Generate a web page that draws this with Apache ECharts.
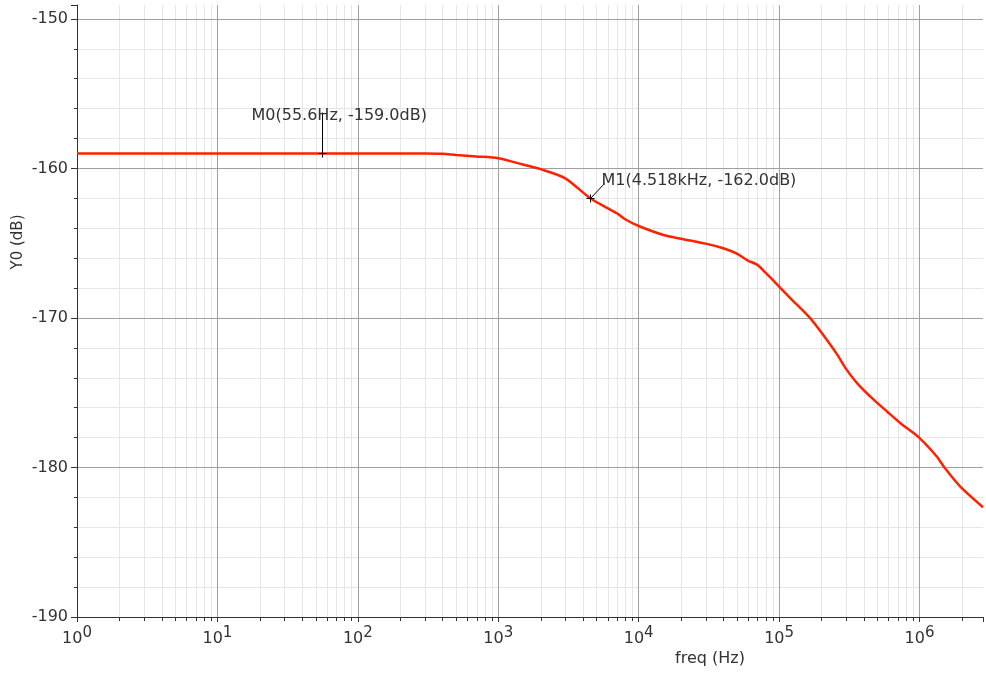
<!DOCTYPE html>
<html><head><meta charset="utf-8">
<script src="https://cdn.jsdelivr.net/npm/echarts@6/dist/echarts.min.js"></script>
<style>html,body{margin:0;padding:0;background:#fff}#c{width:986px;height:673px}</style>
</head><body><div id="c"></div>
<script>
// ---- data ----
const freqHz = [1, 10, 100, 300, 400, 500, 700, 1000, 1500, 2000, 3000, 4518, 6000, 7000, 8000, 10000, 15000, 20000, 30000, 40000, 50000, 60000, 70000, 80000, 100000, 121000, 164000, 200000, 260000, 298000, 360000, 473000, 589000, 732000, 1005000, 1330000, 1490000, 1950000, 2830000];
const magDb = [-159.0, -159.0, -159.0, -159.0, -159.02, -159.1, -159.2, -159.32, -159.74, -160.05, -160.66, -162.0, -162.66, -163.0, -163.4, -163.85, -164.45, -164.7, -165.03, -165.34, -165.7, -166.16, -166.45, -166.97, -167.9, -168.7, -169.95, -170.98, -172.47, -173.37, -174.37, -175.48, -176.27, -177.04, -178.05, -179.28, -179.95, -181.28, -182.66];
const markerFreq = [55.6, 4518];
const markerDb = [-159.0, -162.0];
const markerText = ['M0(55.6Hz, -159.0dB)', 'M1(4.518kHz, -162.0dB)'];
const yTicks = [-190, -180, -170, -160, -150];
const xDecades = [0, 1, 2, 3, 4, 5, 6];
const xAxisName = 'freq (Hz)';
const yAxisName = 'Y0 (dB)';

const X_MIN = 1, X_MAX = 2.83e6, Y_MIN = -190, Y_MAX = -149.07;
const FONT = 'DejaVu Sans';
const TXT = '#333';

// minor log grid positions (2..9 x 10^d)
const minorX = [];
xDecades.forEach(d => { for (let m = 2; m <= 9; m++) { const v = m * Math.pow(10, d); if (v < X_MAX) minorX.push([v, Y_MIN]); } });

const chart = echarts.init(document.getElementById('c'), null, {renderer: 'canvas'});
chart.setOption({
  animation: false,
  backgroundColor: '#fff',
  grid: {left: 77, right: 0, top: 5, bottom: 56, containLabel: false},
  xAxis: {
    type: 'log', logBase: 10, min: X_MIN, max: X_MAX, z: 1,
    axisLine: {show: true, onZero: false, lineStyle: {color: '#333', width: 1}},
    axisTick: {show: true, length: 5, lineStyle: {color: '#333'}},
    splitLine: {show: true, showMaxLine: false, showMinLine: false, lineStyle: {color: '#a0a0a0', width: 1}},
    axisLabel: {
      margin: 9, color: TXT, fontFamily: FONT,
      formatter: v => {
        const l = Math.log10(v), e = Math.round(l);
        if (Math.abs(l - e) > 1e-6 || xDecades.indexOf(e) < 0) return '';
        return '{b|10}{s|' + e + '}';
      },
      rich: {
        b: {fontSize: 16, lineHeight: 21, verticalAlign: 'bottom', fontFamily: FONT, color: TXT},
        s: {fontSize: 15, lineHeight: 14, verticalAlign: 'top', fontFamily: FONT, color: TXT}
      }
    }
  },
  yAxis: {
    type: 'value', min: Y_MIN, max: Y_MAX, interval: 10, z: 1,
    axisLine: {show: true, lineStyle: {color: '#333', width: 1}},
    axisTick: {show: true, length: 6, lineStyle: {color: '#333'}},
    minorTick: {show: true, splitNumber: 5, length: 3, lineStyle: {color: '#333'}},
    splitLine: {show: true, showMaxLine: false, showMinLine: false, lineStyle: {color: '#a0a0a0', width: 1}},
    minorSplitLine: {show: true, lineStyle: {color: '#e6e6e6', width: 1}},
    axisLabel: {
      margin: 9, fontSize: 16, color: TXT, fontFamily: FONT,
      formatter: v => (yTicks.indexOf(v) >= 0 ? String(v) : '')
    }
  },
  graphic: [
    {type: 'text', x: 18, y: 242, rotation: Math.PI / 2,
     style: {text: yAxisName, fontSize: 15, fontFamily: FONT, fill: TXT, align: 'center', verticalAlign: 'middle'}},
    {type: 'text', x: 710, y: 659,
     style: {text: xAxisName, fontSize: 16, fontFamily: FONT, fill: TXT, align: 'center', verticalAlign: 'middle'}}
  ],
  series: [
    {
      type: 'custom', z: 0, silent: true, clip: false,
      data: minorX, encode: {x: 0, y: 1},
      renderItem: (params, api) => {
        const cs = params.coordSys;
        const x = Math.round(api.coord([api.value(0), Y_MIN])[0]) + 0.5;
        const y0 = Math.round(cs.y), y1 = Math.round(cs.y + cs.height);
        return {type: 'group', children: [
          {type: 'line', shape: {x1: x, y1: y0, x2: x, y2: y1}, style: {stroke: '#e6e6e6', lineWidth: 1}},
          {type: 'line', shape: {x1: x, y1: y1, x2: x, y2: y1 + 4}, style: {stroke: '#333', lineWidth: 1}}
        ]};
      }
    },
    {
      type: 'line', z: 3, silent: true, smooth: 0.25,
      data: freqHz.map((f, i) => [f, magDb[i]]),
      showSymbol: false, symbol: 'none',
      lineStyle: {color: '#ff2200', width: 2.5}
    },
    {
      type: 'custom', z: 4, silent: true, clip: false,
      data: markerFreq.map((f, i) => [f, markerDb[i], i]), encode: {x: 0, y: 1},
      renderItem: (params, api) => {
        const p = api.coord([api.value(0), api.value(1)]);
        const i = params.dataIndex;
        const x = Math.round(p[0]) + 0.5, y = Math.round(p[1]) + 0.5;
        let leader, tx, ty;
        if (i === 0) { leader = {x1: x, y1: y, x2: x, y2: y - 41}; tx = x - 71; ty = y - 38; }
        else { leader = {x1: x, y1: y, x2: x + 14, y2: y - 15}; tx = x + 11; ty = y - 18; }
        const st = {stroke: '#000', lineWidth: 1};
        return {type: 'group', children: [
          {type: 'line', shape: {x1: x - 4, y1: y, x2: x + 4, y2: y}, style: st},
          {type: 'line', shape: {x1: x, y1: y - 4, x2: x, y2: y + 4}, style: st},
          {type: 'line', shape: leader, style: st},
          {type: 'text', x: tx, y: ty, style: {text: markerText[i], fontSize: 16, fontFamily: FONT, fill: TXT, align: 'left', verticalAlign: 'middle'}}
        ]};
      }
    }
  ]
});
</script></body></html>
